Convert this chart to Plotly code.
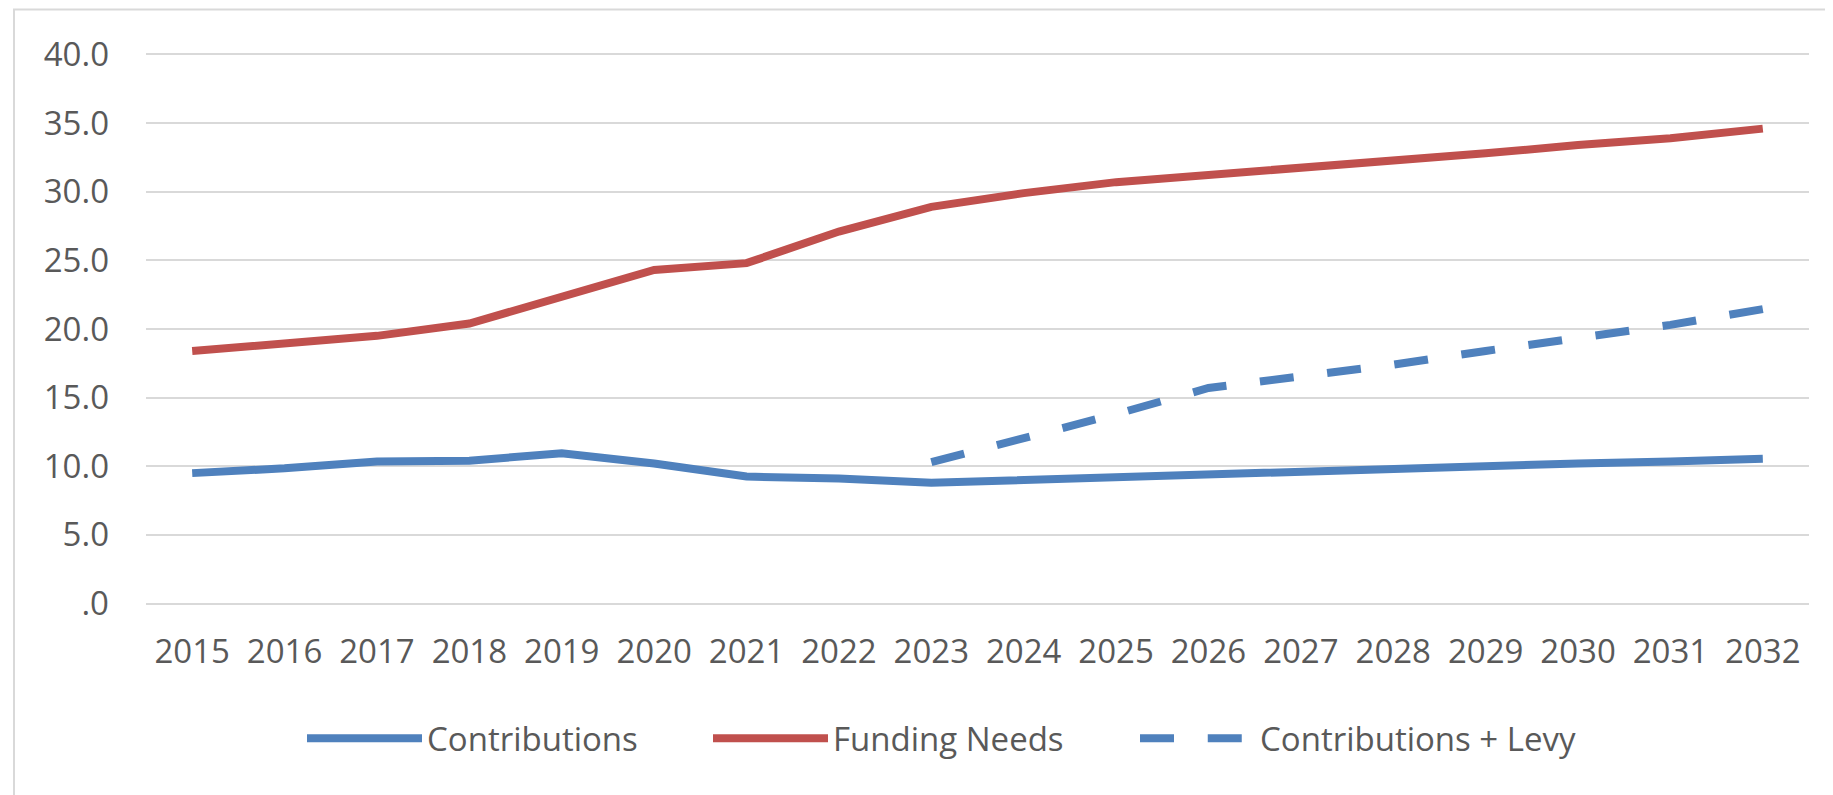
import plotly.graph_objects as go

years = list(range(2015, 2033))
contributions = [9.5, 9.85, 10.35, 10.4, 10.95, 10.2, 9.25, 9.1, 8.8, 9.0, 9.2, 9.45, 9.7, 9.85, 10.05, 10.2, 10.35, 10.55]
funding_needs = [18.4, 18.9, 19.5, 20.4, 22.4, 24.3, 24.8, 27.1, 28.9, 29.9, 30.7, 31.2, 31.7, 32.2, 32.8, 33.4, 33.9, 34.6]
contrib_levy = [None] * 8 + [10.3, 12.0, 13.8, 15.7, 16.5, 17.4, 18.4, 19.4, 20.3, 21.45]
y_tickvals = [0, 5, 10, 15, 20, 25, 30, 35, 40]
y_ticktext = [".0", "5.0", "10.0", "15.0", "20.0", "25.0", "30.0", "35.0", "40.0"]

BLUE = "#4F81BD"
RED = "#C0504D"
GRID = "#D9D9D9"
TEXT = "#595959"
FONT = "Open Sans"

# page body has an 8px default margin; figure is sized/offset to compensate
W, H = 1825, 787
L, R = 138, 24
T, B = 40.5, 185.5
plot_h = H - T - B
plot_w = W - L - R


def px_x(x):
    return (x - L) / plot_w


def px_y(y):
    return (H - B - y) / plot_h


fig = go.Figure()
fig.add_trace(go.Scatter(x=years, y=contributions, mode="lines", name="Contributions",
                         line=dict(color=BLUE, width=8), legend="legend"))
fig.add_trace(go.Scatter(x=years, y=funding_needs, mode="lines", name="Funding Needs",
                         line=dict(color=RED, width=8), legend="legend2"))
fig.add_trace(go.Scatter(x=years, y=contrib_levy, mode="lines", name="Contributions + Levy",
                         line=dict(color=BLUE, width=8, dash="34px,33.75px"), legend="legend3"))

leg_common = dict(orientation="h", xanchor="left", yanchor="middle", y=px_y(731),
                  itemwidth=115, font=dict(family=FONT, size=33, color=TEXT),
                  bgcolor="rgba(0,0,0,0)")

fig.update_layout(
    width=W, height=H,
    margin=dict(l=L, r=R, t=T, b=B, pad=0, autoexpand=False),
    paper_bgcolor="white", plot_bgcolor="white",
    font=dict(family=FONT, size=33, color=TEXT),
    showlegend=True,
    legend=dict(x=px_x(294), **leg_common),
    legend2=dict(x=px_x(700), **leg_common),
    legend3=dict(x=px_x(1127), **leg_common),
    xaxis=dict(range=[2014.5, 2032.5], tickmode="array", tickvals=years,
               ticktext=[str(y) for y in years], showgrid=False, zeroline=False,
               showline=False, ticks="", ticklabelstandoff=20, fixedrange=True),
    yaxis=dict(range=[-0.4, 40.4], tickmode="array", tickvals=y_tickvals,
               ticktext=y_ticktext, showgrid=True, gridcolor=GRID, gridwidth=2,
               zeroline=False, showline=False, ticks="", ticklabelstandoff=36,
               fixedrange=True),
    shapes=[dict(type="rect", xref="paper", yref="paper",
                 x0=px_x(6), x1=1.5,
                 y0=-1.0, y1=px_y(1),
                 line=dict(color=GRID, width=2), fillcolor="rgba(0,0,0,0)", layer="below")],
)

fig.write_html("out.html")
